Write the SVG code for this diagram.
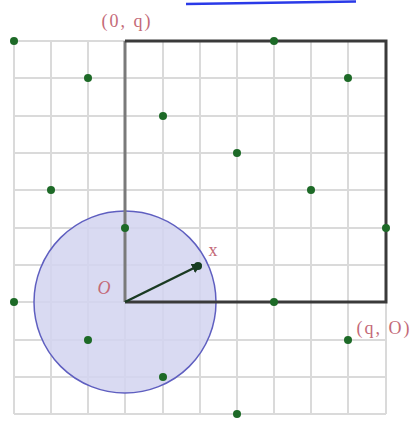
<svg xmlns="http://www.w3.org/2000/svg" width="417" height="421" viewBox="0 0 417 421">
<style>
.grid line{stroke:#dadada;stroke-width:2}
.dot{fill:#1d6a27}
.lbl{font-family:"Liberation Serif",serif;font-size:18px;fill:#c46a78}
</style>
<defs>
<marker id="ah" viewBox="0 0 10 10" refX="8" refY="5" markerWidth="4" markerHeight="4" orient="auto">
<path d="M0,0 L10,5 L0,10 z" fill="#1a3a22"/>
</marker>
</defs>
<rect width="417" height="421" fill="#fff"/>
<line x1="186" y1="4" x2="356" y2="1.5" stroke="#2a3ae8" stroke-width="2.5"/>
<g class="grid">
<line x1="14" y1="41" x2="14" y2="414"/><line x1="51" y1="41" x2="51" y2="414"/><line x1="88" y1="41" x2="88" y2="414"/><line x1="125" y1="41" x2="125" y2="414"/><line x1="163" y1="41" x2="163" y2="414"/><line x1="200" y1="41" x2="200" y2="414"/><line x1="237" y1="41" x2="237" y2="414"/><line x1="274" y1="41" x2="274" y2="414"/><line x1="311" y1="41" x2="311" y2="414"/><line x1="348" y1="41" x2="348" y2="414"/><line x1="386" y1="41" x2="386" y2="414"/>
<line x1="14" y1="41" x2="386" y2="41"/><line x1="14" y1="78" x2="386" y2="78"/><line x1="14" y1="116" x2="386" y2="116"/><line x1="14" y1="153" x2="386" y2="153"/><line x1="14" y1="190" x2="386" y2="190"/><line x1="14" y1="228" x2="386" y2="228"/><line x1="14" y1="265" x2="386" y2="265"/><line x1="14" y1="302" x2="386" y2="302"/><line x1="14" y1="340" x2="386" y2="340"/><line x1="14" y1="377" x2="386" y2="377"/><line x1="14" y1="414" x2="386" y2="414"/>
</g>
<g id="disk">
<circle cx="125" cy="302" r="91" fill="#d2d3f0" fill-opacity="0.85" stroke="#5f5fc0" stroke-width="1.5"/>
</g>
<g id="square">
<path d="M125,302 L125,41" stroke="#7a7a7a" stroke-width="3" fill="none"/>
<path d="M125,41 L386,41 L386,302 L125,302" stroke="#3a3a3a" stroke-width="3" fill="none"/>
</g>
<g id="connectors">
<line x1="125" y1="302" x2="200" y2="265" stroke="#1a3a22" stroke-width="2.5" marker-end="url(#ah)"/>
</g>
<g id="points">
<circle class="dot" cx="14" cy="41" r="4"/><circle class="dot" cx="274" cy="41" r="4"/>
<circle class="dot" cx="88" cy="78" r="4"/><circle class="dot" cx="348" cy="78" r="4"/>
<circle class="dot" cx="163" cy="116" r="4"/><circle class="dot" cx="237" cy="153" r="4"/>
<circle class="dot" cx="51" cy="190" r="4"/><circle class="dot" cx="311" cy="190" r="4"/>
<circle class="dot" cx="125" cy="228" r="4"/><circle class="dot" cx="386" cy="228" r="4"/>
<circle class="dot" cx="14" cy="302" r="4"/><circle class="dot" cx="274" cy="302" r="4"/>
<circle class="dot" cx="88" cy="340" r="4"/><circle class="dot" cx="348" cy="340" r="4"/>
<circle class="dot" cx="163" cy="377" r="4"/><circle class="dot" cx="237" cy="414" r="4"/>
<circle cx="198" cy="266" r="4" fill="#163d20"/>
</g>
<g id="labels">
<text class="lbl" x="127" y="27" text-anchor="middle" letter-spacing="2">(0, q)</text>
<text class="lbl" x="384" y="334" text-anchor="middle" letter-spacing="2">(q, O)</text>
<text class="lbl" x="104" y="294" text-anchor="middle" font-style="italic" font-size="21">O</text>
<text class="lbl" x="213" y="256" text-anchor="middle" font-size="17">x</text>
</g>
</svg>
